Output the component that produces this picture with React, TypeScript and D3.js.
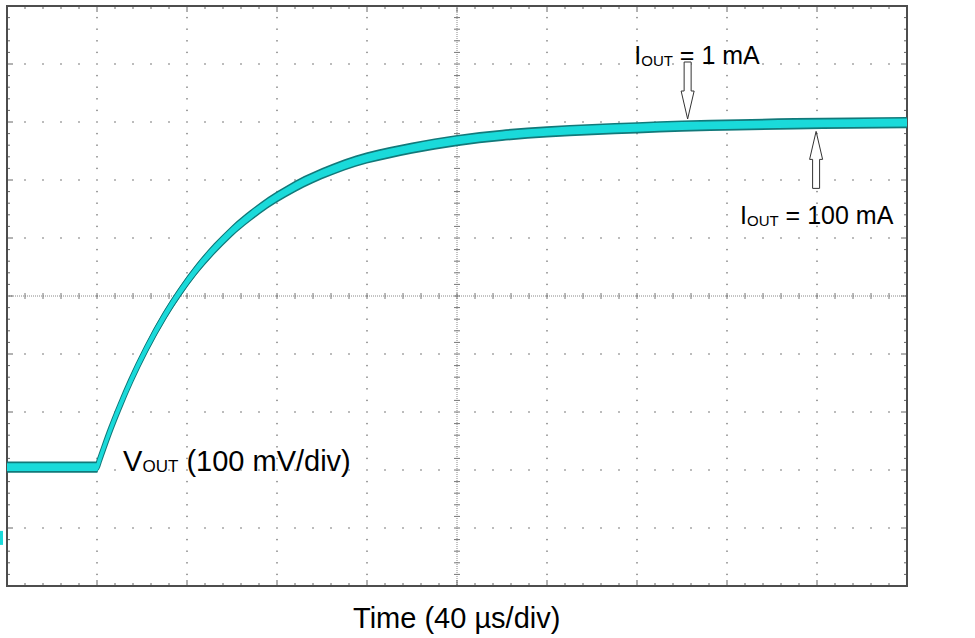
import React from "react";
import * as d3 from "d3";

// Time in µs (40 µs/div), voltage in mV relative to screen centre (100 mV/div)
const timeUs = [0, 20, 40, 41, 43, 46, 50, 55, 62, 70, 77, 84, 92, 100, 108, 116, 124, 132, 140, 150, 160, 170, 180, 190, 200, 220, 240, 260, 280, 300, 325, 350, 375, 400];
const vout1mA = [-293, -293, -293, -282, -260, -228, -189, -144, -88, -32, 10, 47, 83, 114, 140, 163, 182, 199, 213, 228, 240, 249, 257, 264, 270, 279, 285, 289, 292, 295, 297, 299, 300, 301];
const vout100mA = [-297, -297, -297, -286, -264, -232, -193, -148, -92, -36, 6, 43, 79, 110, 136, 159, 178, 195, 209, 224, 236, 245, 253, 260, 266, 275, 281, 285, 288, 291, 293, 295, 296, 297];

const xDomain = [0, 400];
const yDomain = [-500, 500];
const xMajor = [0, 40, 80, 120, 160, 200, 240, 280, 320, 360, 400];
const yMajor = [-500, -400, -300, -200, -100, 0, 100, 200, 300, 400, 500];

const annotations = [
  { label: "1 mA", t: 302.5, v: 300, dir: "down", textT: 278.8, textV: 400 },
  { label: "100 mA", t: 359.6, v: 289, dir: "up", textT: 325.8, textV: 125 },
];
const channelLabel = { main: "V", sub: "OUT", rest: " (100 mV/div)", t: 51.6, v: -301 };
const xTitle = "Time (40 µs/div)";

const W = 975, H = 638;
const L = 7, R = 907, T = 6, B = 586;

export default function App() {
  const x = d3.scaleLinear().domain(xDomain).range([L, R]);
  const y = d3.scaleLinear().domain(yDomain).range([B, T]);
  const xMinor = d3.range(xDomain[0], xDomain[1] + 0.01, 8);
  const yMinor = d3.range(yDomain[0], yDomain[1] + 0.01, 20);
  const cx = x(200), cy = y(0);

  const pts = timeUs.map((t, i) => ({ t, hi: vout1mA[i], lo: vout100mA[i] }));
  const areaOuter = d3.area<any>().x(d => x(d.t)).y0(d => y(d.lo) + 4.5).y1(d => y(d.hi) - 4.5).curve(d3.curveMonotoneX);
  const areaInner = d3.area<any>().x(d => x(d.t)).y0(d => y(d.lo) + 2.8).y1(d => y(d.hi) - 2.8).curve(d3.curveMonotoneX);
  const lineHi = d3.line<any>().x(d => x(d.t)).y(d => y(d.hi)).curve(d3.curveMonotoneX);
  const lineLo = d3.line<any>().x(d => x(d.t)).y(d => y(d.lo)).curve(d3.curveMonotoneX);

  const dots: JSX.Element[] = [];
  xMajor.slice(1, -1).forEach(xv => {
    if (xv === 200) return;
    yMinor.slice(1, -1).forEach(yv => {
      dots.push(<rect key={`v${xv}_${yv}`} x={x(xv) - 0.7} y={y(yv) - 0.7} width={1.4} height={1.4} fill="#777" />);
    });
  });
  yMajor.slice(1, -1).forEach(yv => {
    if (yv === 0) return;
    xMinor.slice(1, -1).forEach(xv => {
      if (xMajor.includes(xv)) return;
      dots.push(<rect key={`h${xv}_${yv}`} x={x(xv) - 0.7} y={y(yv) - 0.7} width={1.4} height={1.4} fill="#777" />);
    });
  });

  const ticks: JSX.Element[] = [];
  xMinor.slice(1, -1).forEach(xv => {
    const major = xMajor.includes(xv);
    const len = major ? 6 : 3;
    ticks.push(<line key={`tt${xv}`} x1={x(xv)} x2={x(xv)} y1={T} y2={T + len} stroke="#666" strokeWidth={1} />);
    ticks.push(<line key={`tb${xv}`} x1={x(xv)} x2={x(xv)} y1={B} y2={B - len} stroke="#666" strokeWidth={1} />);
    ticks.push(<line key={`tc${xv}`} x1={x(xv)} x2={x(xv)} y1={cy - 3} y2={cy + 3} stroke="#777" strokeWidth={1} />);
  });
  yMinor.slice(1, -1).forEach(yv => {
    const major = yMajor.includes(yv);
    const len = major ? 6 : 3;
    ticks.push(<line key={`tl${yv}`} x1={L} x2={L + len} y1={y(yv)} y2={y(yv)} stroke="#666" strokeWidth={1} />);
    ticks.push(<line key={`tr${yv}`} x1={R} x2={R - len} y1={y(yv)} y2={y(yv)} stroke="#666" strokeWidth={1} />);
    ticks.push(<line key={`tcy${yv}`} x1={cx - 3} x2={cx + 3} y1={y(yv)} y2={y(yv)} stroke="#777" strokeWidth={1} />);
  });

  const arrow = (tx: number, ty: number, dir: string) => {
    const s = dir === "down" ? -1 : 1;
    const headLen = 28, totalLen = 57, hw = 6.5, sw = 3.5;
    const p = [
      [tx, ty],
      [tx + hw, ty + s * headLen],
      [tx + sw, ty + s * headLen],
      [tx + sw, ty + s * totalLen],
      [tx - sw, ty + s * totalLen],
      [tx - sw, ty + s * headLen],
      [tx - hw, ty + s * headLen],
    ];
    return p.map(q => q.join(",")).join(" ");
  };

  const font = "'Liberation Sans', Arial, sans-serif";

  return (
    <svg width={W} height={H} style={{ position: "absolute", left: 0, top: 0, background: "#fff" }} fontFamily={font}>
      <rect x={0} y={0} width={W} height={H} fill="#fff" />
      {dots}
      <line x1={L} x2={R} y1={cy} y2={cy} stroke="#888" strokeWidth={1} strokeDasharray="1,1" />
      <line x1={cx} x2={cx} y1={T} y2={B} stroke="#888" strokeWidth={1} strokeDasharray="1,1" />
      {ticks}
      <rect x={L} y={T} width={R - L} height={B - T} fill="none" stroke="#4d4d4d" strokeWidth={2} />

      {/* traces */}
      <path d={areaOuter(pts) || ""} fill="#12797a" />
      <path d={lineHi(pts) || ""} fill="none" stroke="#12797a" strokeWidth={5} />
      <path d={lineLo(pts) || ""} fill="none" stroke="#12797a" strokeWidth={5} />
      <path d={areaInner(pts) || ""} fill="#1adada" />
      <path d={lineHi(pts) || ""} fill="none" stroke="#1adada" strokeWidth={3} />
      <path d={lineLo(pts) || ""} fill="none" stroke="#1adada" strokeWidth={3} />

      {/* channel ground marker */}
      <rect x={0} y={y(-405)} width={3} height={14} fill="#1adada" />

      {annotations.map(a => (
        <g key={a.label}>
          <polygon points={arrow(x(a.t), y(a.v) + (a.dir === "down" ? -3 : 3), a.dir)} fill="#fff" stroke="#333" strokeWidth={1} />
          <text x={x(a.textT)} y={y(a.textV)} fontSize={25} fill="#000">
            I<tspan fontSize={15} dy={2}>OUT</tspan><tspan dy={-2}>{" = " + a.label}</tspan>
          </text>
        </g>
      ))}

      <text x={x(channelLabel.t)} y={y(channelLabel.v)} fontSize={29} fill="#000">
        {channelLabel.main}<tspan fontSize={17} dy={1}>{channelLabel.sub}</tspan><tspan dy={-1}>{channelLabel.rest}</tspan>
      </text>

      <text x={353} y={628} fontSize={29} fill="#000">{xTitle}</text>
    </svg>
  );
}
